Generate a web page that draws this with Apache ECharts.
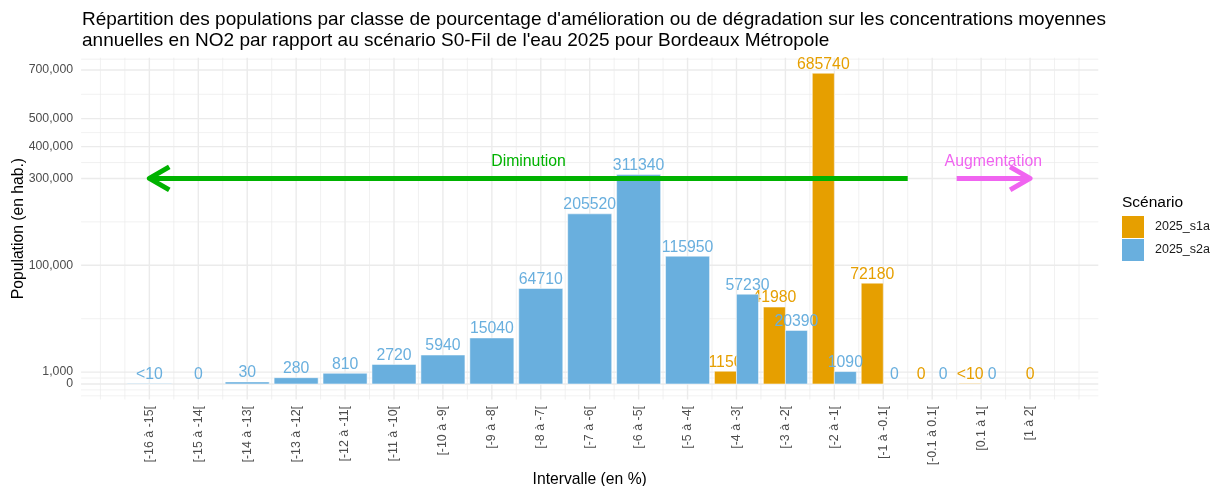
<!DOCTYPE html>
<html>
<head>
<meta charset="utf-8">
<script src="https://cdn.jsdelivr.net/npm/echarts@6/dist/echarts.min.js"></script>
<style>
  html, body { margin: 0; padding: 0; background: #fff; }
  #chart { width: 1217px; height: 486px; }
</style>
</head>
<body>
<div id="chart"></div>
<script>
// classes d'intervalle (en %)
var categories = ['[-16 à -15[', '[-15 à -14[', '[-14 à -13[', '[-13 à -12[', '[-12 à -11[',
  '[-11 à -10[', '[-10 à -9[', '[-9 à -8[', '[-8 à -7[', '[-7 à -6[', '[-6 à -5[', '[-5 à -4[',
  '[-4 à -3[', '[-3 à -2[', '[-2 à -1[', '[-1 à -0.1[', '[-0.1 à 0.1[', '[0.1 à 1[', '[1 à 2['];
// populations (hab.), null = pas de barre ; valeurs < 10 affichées "<10"
var s1a = [null, null, null, null, null, null, null, null, null, null, null, null,
  1150, 41980, 685740, 72180, 0, 2, 0];
var s2a = [2, 0, 30, 280, 810, 2720, 5940, 15040, 64710, 205520, 311340, 115950,
  57230, 20390, 1090, 0, 0, 0, null];
var seriesNames = ['2025_s1a', '2025_s2a'];
// graduations de l'axe y (échelle racine carrée)
var yBreaks = [0, 1000, 100000, 300000, 400000, 500000, 700000, 800000];
// flèches Diminution / Augmentation
var arrowFrom = [15.5, 16.5];
var arrowTo = [0, 18];
var arrowY = 300000;
var arrowText = ['Diminution', 'Augmentation'];
var arrowTextY = 350000;

var FONT = '"Liberation Sans", Arial, sans-serif';
var COLORS = ['#E69F00', '#69AFDE'];
var ARROW_COLORS = ['#00B200', '#F064F0'];

// bornes du panneau (expansion 5 % comme ggplot)
var xMin = -0.45 - 0.945, xMax = 18.45 + 0.945;
var allVals = s1a.concat(s2a).filter(function (v) { return v !== null; });
var yTop = Math.sqrt(Math.max.apply(null, allVals));
var yMin = -0.05 * yTop, yMax = yTop * 1.05;

function dodge(own, other, offset) {
  var data = [], labels = [];
  own.forEach(function (v, i) {
    if (v === null) return;
    var both = other[i] !== null;
    data.push([i, Math.sqrt(v), both ? offset : 0, both ? 0.45 : 0.9]);
    labels.push(v > 0 && v < 10 ? '<10' : String(v));
  });
  return { data: data, labels: labels };
}
var bars1 = dodge(s1a, s2a, -0.225);
var bars2 = dodge(s2a, s1a, 0.225);

function barItem(color, labels) {
  return function (params, api) {
    var x = api.value(0), v = api.value(1), dx = api.value(2), w = api.value(3);
    var p0 = api.coord([x + dx - w / 2, v]);
    var p1 = api.coord([x + dx + w / 2, 0]);
    var children = [];
    if (p1[1] - p0[1] > 0.01) {
      children.push({
        type: 'rect',
        shape: { x: p0[0], y: p0[1], width: p1[0] - p0[0], height: p1[1] - p0[1] },
        style: { fill: color, stroke: '#ffffff', lineWidth: 0.5 }
      });
    }
    children.push({
      type: 'text',
      style: {
        text: labels[params.dataIndex], x: (p0[0] + p1[0]) / 2, y: p0[1] - 1,
        align: 'center', verticalAlign: 'bottom', fill: color,
        fontSize: 15.8, fontFamily: FONT
      }
    });
    return { type: 'group', children: children };
  };
}

// lignes de grille (majeures + mineures)
var yMajor = yBreaks.map(Math.sqrt);
var ext = [yMajor[0] - (yMajor[1] - yMajor[0])].concat(yMajor);
var gridData = [];
for (var k = 0; k < ext.length - 1; k++) gridData.push([1, (ext[k] + ext[k + 1]) / 2, 0]);
gridData.push([1, ext[0], 0]);
yMajor.forEach(function (v) { gridData.push([1, v, 1]); });
for (var gx = -1; gx <= 19; gx += 0.5) {
  gridData.push([0, gx, (gx % 1 === 0 && gx >= 0 && gx <= 18) ? 1 : 0]);
}
gridData = gridData.filter(function (d) {
  return d[0] === 0 ? (d[1] > xMin && d[1] < xMax) : (d[1] > yMin && d[1] < yMax);
});

var arrowData = arrowFrom.map(function (f, i) {
  return [f, arrowTo[i], Math.sqrt(arrowY), Math.sqrt(arrowTextY)];
});

var chart = echarts.init(document.getElementById('chart'), null, { renderer: 'canvas' });
chart.setOption({
  animation: false,
  backgroundColor: '#ffffff',
  textStyle: { fontFamily: FONT },
  title: [{
    text: 'Répartition des populations par classe de pourcentage d\'amélioration ou de dégradation sur les concentrations moyennes\nannuelles en NO2 par rapport au scénario S0-Fil de l\'eau 2025 pour Bordeaux Métropole',
    left: 82, top: 10, padding: 0,
    textStyle: { fontSize: 19, lineHeight: 20.5, fontWeight: 'normal', color: '#000', fontFamily: FONT }
  }, {
    text: 'Scénario', left: 1122, top: 195, padding: 0,
    textStyle: { fontSize: 15.5, fontWeight: 'normal', color: '#000', fontFamily: FONT }
  }],
  legend: {
    data: seriesNames,
    orient: 'vertical', left: 1122, top: 216, padding: 0,
    itemWidth: 22, itemHeight: 22, itemGap: 1, icon: 'rect',
    textStyle: { fontSize: 12.5, color: '#1a1a1a', fontFamily: FONT, padding: [0, 0, 0, 6] }
  },
  grid: { left: 81.1, right: 118.7, top: 57.7, bottom: 86.5, containLabel: false, outerBoundsMode: 'none' },
  xAxis: {
    type: 'value', min: xMin, max: xMax,
    name: 'Intervalle (en %)', nameLocation: 'middle', nameGap: 72, nameMoveOverlap: false,
    nameTextStyle: { fontSize: 15.7, color: '#000', fontFamily: FONT },
    axisLine: { show: false }, axisTick: { show: false }, splitLine: { show: false },
    axisLabel: {
      customValues: categories.map(function (c, i) { return i; }),
      formatter: function (v) { return categories[Math.round(v)]; },
      rotate: 90, margin: 6.5, fontSize: 12.4, color: '#4D4D4D', fontFamily: FONT,
      hideOverlap: false
    }
  },
  yAxis: {
    type: 'value', min: yMin, max: yMax,
    name: 'Population (en hab.)', nameLocation: 'middle', nameGap: 54, nameMoveOverlap: false,
    nameTextStyle: { fontSize: 15.7, color: '#000', fontFamily: FONT },
    axisLine: { show: false }, axisTick: { show: false }, splitLine: { show: false },
    axisLabel: {
      customValues: yMajor.filter(function (v) { return v <= yMax; }),
      formatter: function (v) { return Math.round(v * v).toLocaleString('en-US'); },
      margin: 8, fontSize: 12.3, color: '#4D4D4D', fontFamily: FONT,
      hideOverlap: false, showMinLabel: true, showMaxLabel: true
    }
  },
  series: [{
    type: 'custom', name: 'grille', silent: true, z: 0,
    data: gridData, encode: { x: 1, y: 1 },
    renderItem: function (params, api) {
      var cs = params.coordSys;
      var horiz = api.value(0) === 1, v = api.value(1), major = api.value(2) === 1;
      var shape;
      if (horiz) {
        var py = api.coord([xMin, v])[1];
        shape = { x1: cs.x, y1: py, x2: cs.x + cs.width, y2: py };
      } else {
        var px = api.coord([v, yMin])[0];
        shape = { x1: px, y1: cs.y, x2: px, y2: cs.y + cs.height };
      }
      return { type: 'line', shape: shape, style: { stroke: '#EBEBEB', lineWidth: major ? 1.4 : 0.7 } };
    }
  }, {
    type: 'custom', name: seriesNames[0], z: 2,
    itemStyle: { color: COLORS[0] },
    data: bars1.data, encode: { x: 0, y: 1 },
    renderItem: barItem(COLORS[0], bars1.labels)
  }, {
    type: 'custom', name: seriesNames[1], z: 2,
    itemStyle: { color: COLORS[1] },
    data: bars2.data, encode: { x: 0, y: 1 },
    renderItem: barItem(COLORS[1], bars2.labels)
  }, {
    type: 'custom', name: 'fleches', silent: true, z: 3,
    data: arrowData, encode: { x: 0, y: 2 },
    renderItem: function (params, api) {
      var i = params.dataIndex, col = ARROW_COLORS[i];
      var a = api.coord([api.value(0), api.value(2)]);
      var b = api.coord([api.value(1), api.value(2)]);
      var t = api.coord([(api.value(0) + api.value(1)) / 2, api.value(3)]);
      var dir = b[0] > a[0] ? 1 : -1;
      var L = 23, ang = Math.PI / 6;
      var wx = b[0] - dir * L * Math.cos(ang), wy = L * Math.sin(ang);
      return {
        type: 'group',
        children: [{
          type: 'text',
          style: { text: arrowText[i], x: t[0], y: t[1], align: 'center', verticalAlign: 'middle',
            fill: col, fontSize: 15.8, fontFamily: FONT }
        }, {
          type: 'line', shape: { x1: a[0], y1: a[1], x2: b[0], y2: b[1] },
          style: { stroke: col, lineWidth: 5, lineCap: 'butt' }
        }, {
          type: 'polyline', shape: { points: [[wx, b[1] - wy], [b[0], b[1]], [wx, b[1] + wy]] },
          style: { stroke: col, lineWidth: 5, lineJoin: 'round', fill: null }
        }]
      };
    }
  }]
});
</script>
</body>
</html>
